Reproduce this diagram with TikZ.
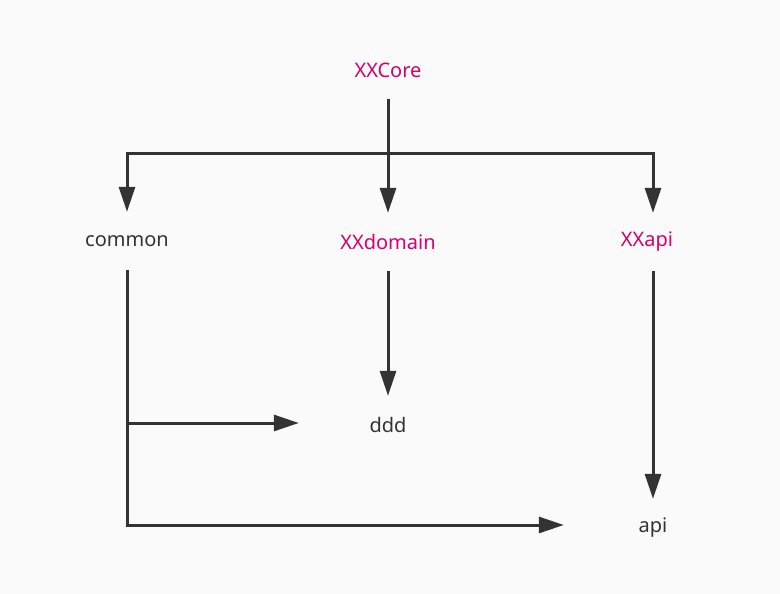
\documentclass[tikz,border=0pt]{standalone}
\usepackage{fontspec}
\setmainfont{Noto Sans}
\usetikzlibrary{arrows.meta}
\definecolor{pinkred}{RGB}{214,0,110}
\definecolor{ink}{RGB}{51,51,51}
\definecolor{paper}{RGB}{250,250,250}
\begin{document}
\begin{tikzpicture}[x=1pt,y=-1pt,
    mod/.style={font=\fontsize{20}{23}\selectfont, text=ink, inner sep=0pt, minimum height=58pt, minimum width=178pt},
    xxmod/.style={mod, text=pinkred},
    link/.style={draw=ink, line width=3pt, -{Triangle[length=25pt,width=16pt]}}]
        \fill[paper] (0,0) rectangle (780,594);
        \useasboundingbox (0,0) rectangle (780,594);
        \node[xxmod] (core) at (388,70) {XXCore};
        \node[mod] (common) at (127,241) {common};
        \node[xxmod] (domain) at (388,242) {XXdomain};
        \node[xxmod] (xapi) at (647,242) {XXapi};
        \node[mod] (ddd) at (388,425) {ddd};
        \node[mod] (api) at (653,528) {api};
        \coordinate (split) at (388,153);
        \draw [link] (core) -- (domain) ;
        \draw [link] (split) -| (common) ;
        \draw [link] (split) -| ([xshift=6pt]xapi.north) ;
        \draw [link] (domain) -- (ddd) ;
        \draw [link] ([xshift=6pt]xapi.south) -- (api) ;
        \draw [link] (common.south) |- ([yshift=2pt]ddd.west) ;
        \draw [link] (common.south) |- ([yshift=3pt]api.west) ;
      \end{tikzpicture}
\end{document}
